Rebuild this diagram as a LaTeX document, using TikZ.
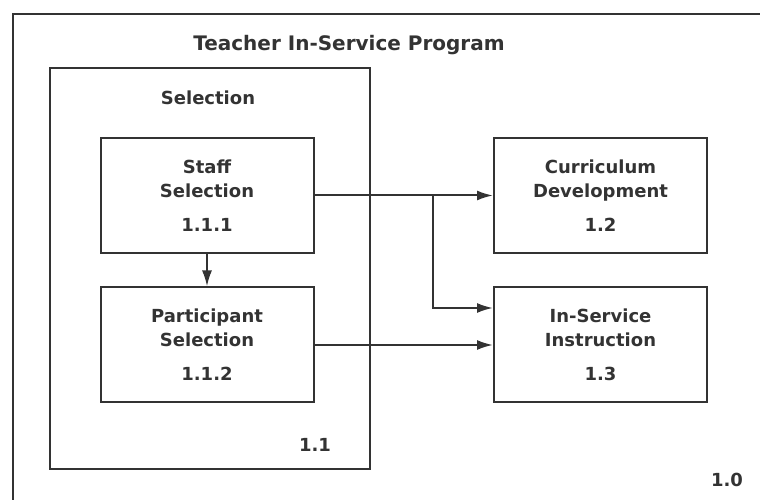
\documentclass[tikz,border=0pt]{standalone}
\usepackage{fontspec}
\setmainfont{DejaVu Sans}
\usetikzlibrary{arrows.meta}
\definecolor{ink}{HTML}{333333}
\begin{document}
\begin{tikzpicture}[x=1pt,y=1pt,line width=2pt,draw=ink,
    flow/.style={-{Latex[length=16pt,width=10pt]},draw=ink,line width=2pt},
    procbox/.style={rectangle,draw=ink,line width=2pt,align=center,text=ink,
      font=\bfseries\fontsize{18}{24}\selectfont,minimum width=213pt,minimum height=115pt},
    tag/.style={text=ink,font=\bfseries\fontsize{18}{24}\selectfont}]
      \useasboundingbox (0,0) rectangle (760,500);
      % Frames
      \draw[ink] (13,-10) -- (13,486) -- (770,486);
      \node[tag,font=\bfseries\fontsize{20}{24}\selectfont] (prog) at (349,455) {Teacher In-Service Program};
      \node[rectangle,draw=ink,line width=2pt,minimum width=320pt,minimum height=401pt] (sel) at (210,231.5) {};
      \node[tag] (seltitle) at (208,402) {Selection};
      \node[tag] (selnum) at (315,55) {1.1};
      \node[tag] (prognum) at (727,20) {1.0};
      
      % Selection boxes
      \node[procbox] (staff) at (207,304.5) {Staff\\Selection\\[10pt]1.1.1};
      \node[procbox] (part) at (207,155) {Participant\\Selection\\[10pt]1.1.2};
      
      % Right boxes
      \node[procbox] (curr) at (600.5,304.5) {Curriculum\\Development\\[10pt]1.2};
      \node[procbox] (inserv) at (600.5,155) {In-Service\\Instruction\\[10pt]1.3};
      
      % Edges
      \coordinate (br) at (433,304.5);
      \draw[flow] (staff) -- (part);
      \draw[flow] (staff) -- (curr);
      \draw[flow] (br) |- ([yshift=37pt]inserv.west);
      \draw[flow] (part) -- (inserv);
\end{tikzpicture}
\end{document}
